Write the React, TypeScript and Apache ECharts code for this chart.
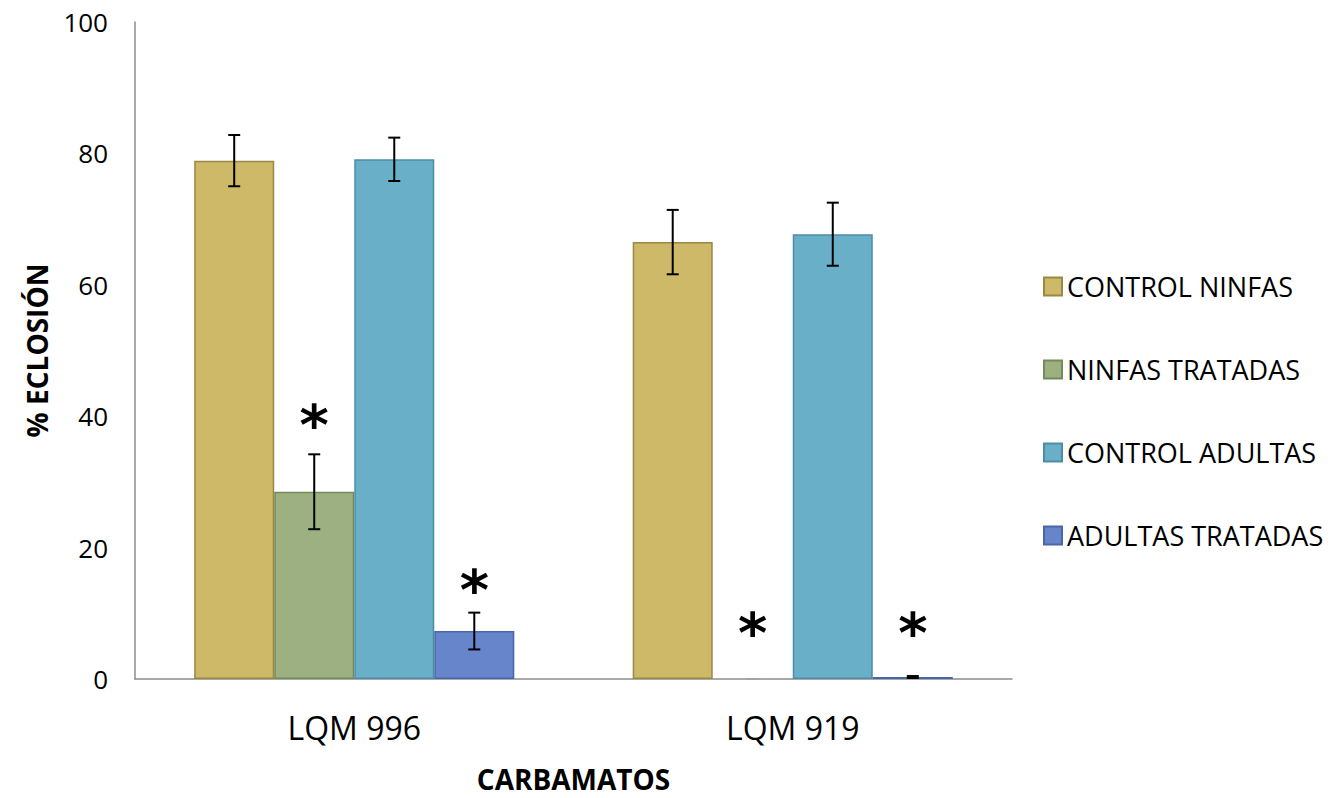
import React, { useEffect, useRef } from "react";
import * as echarts from "echarts";

const categories = ["LQM 996", "LQM 919"];
const seriesNames = ["CONTROL NINFAS", "NINFAS TRATADAS", "CONTROL ADULTAS", "ADULTAS TRATADAS"];
const controlNinfas = [78.9, 66.5];
const ninfasTratadas = [28.5, 0];
const controlAdultas = [79.1, 67.7];
const adultasTratadas = [7.3, 0.3];
const errControlNinfas = [3.9, 4.9];
const errNinfasTratadas = [5.7, 0];
const errControlAdultas = [3.3, 4.8];
const errAdultasTratadas = [2.8, 0.15];
// asterisk levels (value units), null = no asterisk
const asteriskNinfasTratadas = [39.6, 8.0];
const asteriskAdultasTratadas = [14.6, 8.0];
const yTicks = { min: 0, max: 100, interval: 20 };

const fills = ["#CDB967", "#9DB081", "#6AAFC8", "#6685CB"];
const borders = ["#9A8845", "#748A5A", "#4C8DA6", "#4966A8"];

const values = [controlNinfas, ninfasTratadas, controlAdultas, adultasTratadas];
const errors = [errControlNinfas, errNinfasTratadas, errControlAdultas, errAdultasTratadas];
const asterisks = [null, asteriskNinfasTratadas, null, asteriskAdultasTratadas];

const CAT_GAP = 0.27;
const FONT = "'Open Sans', 'Liberation Sans', sans-serif";

export default function App() {
  const ref = useRef<HTMLDivElement>(null);
  useEffect(() => {
    if (!ref.current) return;
    const chart = echarts.init(ref.current, null, { renderer: "svg" });

    const errData: any[] = [];
    values.forEach((arr, s) => {
      arr.forEach((v, c) => {
        errData.push([c, v, errors[s][c], s]);
      });
    });
    const starData: any[] = [];
    asterisks.forEach((arr, s) => {
      if (!arr) return;
      arr.forEach((v, c) => {
        if (v != null) starData.push([c, v, s]);
      });
    });

    const offsetX = (api: any, s: number) => {
      const band = api.size([1, 0])[0];
      const bw = (band * (1 - CAT_GAP)) / 4;
      return (s - 1.5) * bw;
    };

    const option: any = {
      animation: false,
      grid: { left: 135, right: 328, top: 22, bottom: 117 },
      legend: {
        orient: "vertical",
        left: 1038,
        top: 268,
        itemWidth: 18,
        itemHeight: 18,
        itemGap: 56,
        icon: "rect",
        data: seriesNames,
        textStyle: { fontFamily: FONT, fontSize: 27, color: "#000", lineHeight: 26, padding: [0, 0, 0, 0] },
      },
      xAxis: {
        type: "category",
        data: categories,
        name: "CARBAMATOS",
        nameLocation: "middle",
        nameGap: 86,
        nameTextStyle: { fontFamily: FONT, fontSize: 28, fontWeight: "bold", color: "#000" },
        axisLine: { lineStyle: { color: "#8C8C8C", width: 1.5 } },
        axisTick: { show: false },
        axisLabel: { fontFamily: FONT, fontSize: 32, color: "#000", margin: 32 },
      },
      yAxis: {
        type: "value",
        min: yTicks.min,
        max: yTicks.max,
        interval: yTicks.interval,
        name: "% ECLOSIÓN",
        nameLocation: "middle",
        nameGap: 84,
        nameTextStyle: { fontFamily: FONT, fontSize: 28, fontWeight: "bold", color: "#000" },
        axisLine: { show: true, lineStyle: { color: "#8C8C8C", width: 1.5 } },
        axisTick: { show: false },
        splitLine: { show: false },
        axisLabel: { fontFamily: FONT, fontSize: 26, color: "#000", margin: 27 },
      },
      series: [
        ...seriesNames.map((name, s) => ({
          name,
          type: "bar",
          data: values[s].map((v) => (v === 0 ? { value: v, itemStyle: { borderWidth: 0 } } : v)),
          barGap: "0%",
          barCategoryGap: CAT_GAP * 100 + "%",
          itemStyle: { color: fills[s], borderColor: borders[s], borderWidth: 1.5 },
        })),
        {
          type: "custom",
          name: "err",
          data: errData,
          z: 10,
          renderItem: (params: any, api: any) => {
            const c = api.value(0);
            const v = api.value(1);
            const e = api.value(2);
            const s = api.value(3);
            const x = api.coord([c, v])[0] + offsetX(api, s);
            const yTop = api.coord([c, v + e])[1];
            const yBot = api.coord([c, Math.max(v - e, 0)])[1];
            const cap = 6;
            const st = { stroke: e === 0 ? "#A0A0A0" : "#000", lineWidth: e === 0 ? 1 : 2 };
            return {
              type: "group",
              children: [
                { type: "line", shape: { x1: x, y1: yTop, x2: x, y2: yBot }, style: st },
                { type: "line", shape: { x1: x - cap, y1: yTop, x2: x + cap, y2: yTop }, style: st },
                { type: "line", shape: { x1: x - cap, y1: yBot, x2: x + cap, y2: yBot }, style: st },
              ],
            };
          },
        },
        {
          type: "custom",
          name: "stars",
          data: starData,
          z: 10,
          renderItem: (params: any, api: any) => {
            const c = api.value(0);
            const v = api.value(1);
            const s = api.value(2);
            const p = api.coord([c, v]);
            return {
              type: "text",
              x: p[0] + offsetX(api, s),
              y: p[1] + 6,
              style: {
                text: "*",
                fontFamily: "'DejaVu Sans', sans-serif",
                fontWeight: "bold",
                fontSize: 56,
                fill: "#000",
                align: "center",
                verticalAlign: "middle",
              },
            };
          },
        },
      ],
    };
    chart.setOption(option);
    return () => chart.dispose();
  }, []);
  return <div ref={ref} style={{ width: 1340, height: 798, position: "absolute", left: 0, top: 0 }} />;
}
